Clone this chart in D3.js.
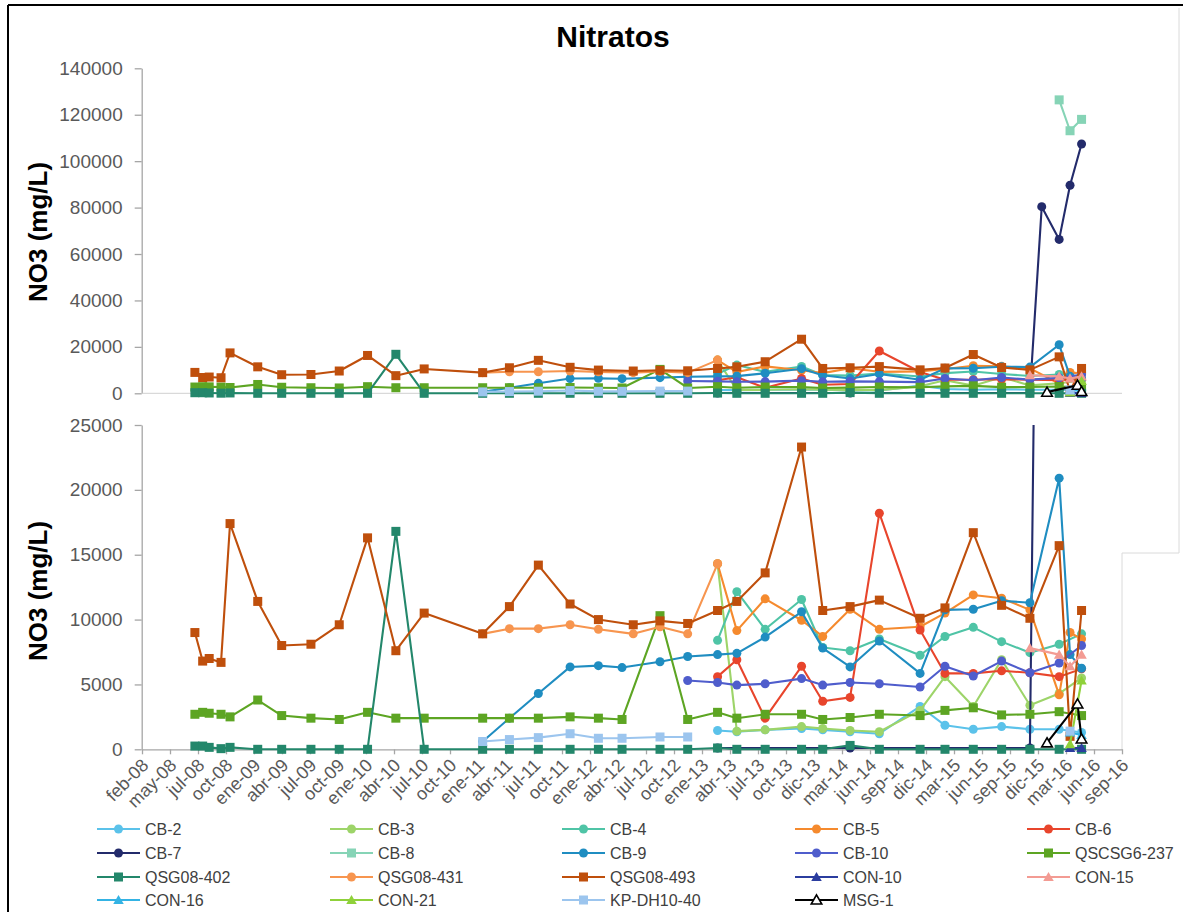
<!DOCTYPE html>
<html><head><meta charset="utf-8">
<script src="https://cdn.jsdelivr.net/npm/d3@7/dist/d3.min.js"></script>
<style>
body{margin:0;background:#fff;}
svg{display:block;font-family:"Liberation Sans",Arial,sans-serif;}
</style>
</head><body>
<svg id="chart" width="1183" height="912"></svg>
<script>
// ---------------- DATA ----------------
const tickLabels = ["feb-08","may-08","jul-08","oct-08","ene-09","abr-09","jul-09","oct-09","ene-10","abr-10","jul-10","oct-10","ene-11","abr-11","jul-11","oct-11","ene-12","abr-12","jul-12","oct-12","ene-13","abr-13","jul-13","oct-13","dic-13","mar-14","jun-14","sep-14","dic-14","mar-15","jun-15","sep-15","dic-15","mar-16","jun-16","sep-16"];
const topTicks = [0,20000,40000,60000,80000,100000,120000,140000];
const bottomTicks = [0,5000,10000,15000,20000,25000];
const seriesNames = ["CB-2","CB-3","CB-4","CB-5","CB-6","CB-7","CB-8","CB-9","CB-10","QSCSG6-237","QSG08-402","QSG08-431","QSG08-493","CON-10","CON-15","CON-16","CON-21","KP-DH10-40","MSG-1"];

const cb2 = [["2013-02-24",1450],["2013-04-27",1350],["2013-07-27",1500],["2013-11-21",1600],["2014-01-28",1500],["2014-04-26",1350],["2014-07-29",1200],["2014-12-07",3300],["2015-02-25",1850],["2015-05-27",1550],["2015-08-26",1750],["2015-11-25",1550],["2016-02-27",1550],["2016-05-09",1300]];
const cb3 = [["2013-02-24",14300],["2013-04-27",1400],["2013-07-27",1500],["2013-11-21",1750],["2014-01-28",1600],["2014-04-26",1450],["2014-07-29",1350],["2014-12-07",3000],["2015-02-25",5600],["2015-05-27",3300],["2015-08-26",6900],["2015-11-25",3400],["2016-02-27",4300],["2016-05-09",5500]];
const cb4 = [["2013-02-24",8400],["2013-04-27",12150],["2013-07-27",9250],["2013-11-21",11550],["2014-01-28",7850],["2014-04-26",7600],["2014-07-29",8500],["2014-12-07",7250],["2015-02-25",8700],["2015-05-27",9400],["2015-08-26",8300],["2015-11-25",7450],["2016-02-27",8100],["2016-05-09",8900]];
const cb5 = [["2013-02-24",14300],["2013-04-27",9150],["2013-07-27",11600],["2013-11-21",9950],["2014-01-28",8700],["2014-04-26",10800],["2014-07-29",9250],["2014-12-07",9450],["2015-02-25",10500],["2015-05-27",11900],["2015-08-26",11650],["2015-11-25",10750],["2016-02-27",4200],["2016-04-02",9000],["2016-05-09",8500]];
const cb6 = [["2013-02-24",5600],["2013-04-27",6900],["2013-07-27",2400],["2013-11-21",6400],["2014-01-28",3700],["2014-04-26",4000],["2014-07-29",18200],["2014-12-07",9200],["2015-02-25",5850],["2015-05-27",5850],["2015-08-26",6050],["2015-11-25",5900],["2016-02-27",5600],["2016-05-09",6200]];
const cb7 = [["2013-02-24",100],["2014-04-26",100],["2015-11-25",100],["2016-01-02",80400],["2016-02-27",66300],["2016-04-02",89600],["2016-05-09",107400]];
const cb8 = [["2016-02-27",126400],["2016-04-02",113100],["2016-05-09",118000]];
const cb9 = [["2011-01-31",600],["2011-04-27",2400],["2011-07-29",4300],["2011-11-08",6350],["2012-02-07",6450],["2012-04-23",6300],["2012-08-23",6750],["2012-11-20",7150],["2013-02-24",7300],["2013-04-27",7400],["2013-07-27",8650],["2013-11-21",10600],["2014-01-28",7800],["2014-04-26",6350],["2014-07-29",8350],["2014-12-07",5850],["2015-02-25",10750],["2015-05-27",10800],["2015-08-26",11450],["2015-11-25",11300],["2016-02-27",20900],["2016-04-02",7300],["2016-05-09",6250]];
const cb10 = [["2012-11-20",5300],["2013-02-24",5150],["2013-04-27",4950],["2013-07-27",5050],["2013-11-21",5450],["2014-01-28",4950],["2014-04-26",5150],["2014-07-29",5050],["2014-12-07",4800],["2015-02-25",6400],["2015-05-27",5650],["2015-08-26",6800],["2015-11-25",5900],["2016-02-27",6650],["2016-05-09",8000]];
const qscsg6237 = [["2008-07-20",2700],["2008-08-14",2850],["2008-09-04",2780],["2008-10-12",2700],["2008-11-10",2500],["2009-02-07",3800],["2009-04-25",2600],["2009-07-28",2400],["2009-10-27",2300],["2010-01-26",2850],["2010-04-27",2400],["2010-07-27",2400],["2011-01-31",2400],["2011-04-27",2400],["2011-07-29",2400],["2011-11-08",2500],["2012-02-07",2400],["2012-04-23",2300],["2012-08-23",10300],["2012-11-20",2300],["2013-02-24",2850],["2013-04-27",2400],["2013-07-27",2700],["2013-11-21",2700],["2014-01-28",2300],["2014-04-26",2450],["2014-07-29",2700],["2014-12-07",2600],["2015-02-25",3000],["2015-05-27",3200],["2015-08-26",2650],["2015-11-25",2700],["2016-02-27",2900],["2016-05-09",2600]];
const qsg08402 = [["2008-07-20",250],["2008-08-14",250],["2008-09-04",150],["2008-10-12",50],["2008-11-10",150],["2009-02-07",0],["2009-04-25",0],["2009-07-28",0],["2009-10-27",0],["2010-01-26",0],["2010-04-27",16800],["2010-07-27",0],["2011-01-31",0],["2011-04-27",0],["2011-07-29",0],["2011-11-08",0],["2012-02-07",0],["2012-04-23",0],["2012-08-23",0],["2012-11-20",0],["2013-02-24",100],["2013-04-27",0],["2013-07-27",0],["2013-11-21",0],["2014-01-28",0],["2014-04-26",300],["2014-07-29",0],["2014-12-07",0],["2015-02-25",0],["2015-05-27",0],["2015-08-26",0],["2015-11-25",0],["2016-02-27",0],["2016-05-09",0]];
const qsg08431 = [["2011-01-31",8900],["2011-04-27",9300],["2011-07-29",9300],["2011-11-08",9600],["2012-02-07",9250],["2012-05-29",8900],["2012-08-23",9450],["2012-11-20",8900],["2013-02-24",14300]];
const qsg08493 = [["2008-07-20",9000],["2008-08-14",6800],["2008-09-04",7000],["2008-10-12",6700],["2008-11-10",17400],["2009-02-07",11400],["2009-04-25",8000],["2009-07-28",8100],["2009-10-27",9600],["2010-01-26",16300],["2010-04-27",7600],["2010-07-27",10500],["2011-01-31",8900],["2011-04-27",11000],["2011-07-29",14200],["2011-11-08",11200],["2012-02-07",10000],["2012-05-29",9600],["2012-08-23",9900],["2012-11-20",9700],["2013-02-24",10700],["2013-04-27",11400],["2013-07-27",13600],["2013-11-21",23300],["2014-01-28",10700],["2014-04-26",11000],["2014-07-29",11500],["2014-12-07",10100],["2015-02-25",10900],["2015-05-27",16700],["2015-08-26",11100],["2015-11-25",10100],["2016-02-27",15700],["2016-04-02",1000],["2016-05-09",10700]];
const con10 = [["2016-04-02",100],["2016-05-09",100]];
const con15 = [["2015-11-25",7800],["2016-02-27",7300],["2016-04-02",6400],["2016-05-09",7300]];
const con16 = [["2016-04-02",1300],["2016-05-09",1100]];
const con21 = [["2016-04-02",400],["2016-05-09",5300]];
const kpdh1040 = [["2011-01-31",600],["2011-04-27",750],["2011-07-29",900],["2011-11-08",1200],["2012-02-07",850],["2012-04-23",850],["2012-08-23",950],["2012-11-20",950],["2014-06-01",null],["2016-04-02",1400]];
const msg1 = [["2016-01-19",500],["2016-04-26",3500],["2016-05-09",800]];

const seriesData = [cb2,cb3,cb4,cb5,cb6,cb7,cb8,cb9,cb10,qscsg6237,qsg08402,qsg08431,qsg08493,con10,con15,con16,con21,kpdh1040,msg1];

// ---------------- STYLE ----------------
const seriesColors = ["#5BC2EA","#9DD469","#4FC4A6","#F58A2E","#E8452C","#232B6B","#86D4B6","#1F8DC1","#4F5DCC","#5DA523","#23876B","#F7954F","#BF4F0C","#2B3D9F","#F39B93","#34B3E4","#8FD13A","#9CC5EE","#000000"];
const seriesMarkers = ["circle","circle","circle","circle","circle","circle","square","circle","circle","square","square","circle","square","triangle","triangle","triangle","triangle","square","hollowTriangle"];

const svg = d3.select("#chart");
const parse = d3.utcParse("%Y-%m-%d");
const start = new Date(Date.UTC(2008,1,1));
const tickDates = tickLabels.map((_, i) => d3.utcDay.offset(start, 90 * i));
const x = d3.scaleUtc().domain([tickDates[0], tickDates[tickDates.length - 1]]).range([142, 1122]);
const yTop = d3.scaleLinear().domain([0, 140000]).range([393.3, 68.3]);
const yBot = d3.scaleLinear().domain([0, 25000]).range([749.3, 425]);

// frame
svg.append("rect").attr("width",1183).attr("height",912).attr("fill","#fff");
svg.append("line").attr("x1",8).attr("x2",1183).attr("y1",5).attr("y2",5).attr("stroke","#000").attr("stroke-width",2);
svg.append("line").attr("x1",8).attr("x2",8).attr("y1",5).attr("y2",912).attr("stroke","#000").attr("stroke-width",2);
svg.append("path").attr("d","M1179,8V553H1122V750").attr("fill","none").attr("stroke","#DADADA").attr("stroke-width",1);

// title
svg.append("text").attr("x",613).attr("y",47).attr("text-anchor","middle")
  .style("font-size","30px").style("font-weight","bold").attr("fill","#000").text("Nitratos");

// y titles
[[232],[591]].forEach(([cy]) => {
  svg.append("text").attr("transform",`translate(47,${cy}) rotate(-90)`).attr("text-anchor","middle")
    .style("font-size","26px").style("font-weight","bold").attr("fill","#000").text("NO3 (mg/L)");
});

function styleAxis(g){
  g.select(".domain").attr("stroke","#A6A6A6").attr("stroke-width",1.3);
  g.selectAll(".tick line").attr("stroke","#A6A6A6").attr("stroke-width",1.3);
  g.selectAll(".tick text").attr("fill","#595959").style("font-family","'Liberation Sans',Arial,sans-serif");
}

// top axes
const gyt = svg.append("g").attr("transform","translate(141.7,0)")
  .call(d3.axisLeft(yTop).tickValues(topTicks).tickFormat(d3.format("d")).tickSize(7).tickSizeOuter(0).tickPadding(12));
styleAxis(gyt); gyt.selectAll(".tick text").style("font-size","19px");
svg.append("line").attr("x1",141.7).attr("x2",1122).attr("y1",393.3).attr("y2",393.3).attr("stroke","#D0D0D0").attr("stroke-width",1);

// bottom axes
const gyb = svg.append("g").attr("transform","translate(141.7,0)")
  .call(d3.axisLeft(yBot).tickValues(bottomTicks).tickFormat(d3.format("d")).tickSize(7).tickSizeOuter(0).tickPadding(12));
styleAxis(gyb); gyb.selectAll(".tick text").style("font-size","19px");

const gx = svg.append("g").attr("transform","translate(0,749.3)")
  .call(d3.axisBottom(x).tickValues(tickDates).tickFormat((d,i)=>tickLabels[i]).tickSize(5).tickSizeOuter(0));
styleAxis(gx);
gx.selectAll(".tick text").attr("x",0).attr("y",0).attr("dy",0)
  .attr("text-anchor","end").attr("transform","translate(7,17) rotate(-45)").style("font-size","18px");

// clip for bottom
svg.append("clipPath").attr("id","clipB").append("rect").attr("x",130).attr("y",425).attr("width",1010).attr("height",345);

const sym = {
  triangle: d3.symbol().type(d3.symbolTriangle).size(48)(),
  hollowTriangle: d3.symbol().type(d3.symbolTriangle).size(48)()
};

function drawMarkers(g, pts, yS, m, color){
  const valid = pts.filter(d => d[1] != null);
  if (m === "circle") {
    g.selectAll("circle").data(valid).join("circle")
      .attr("cx", d => x(parse(d[0]))).attr("cy", d => yS(d[1])).attr("r", 4.5).attr("fill", color);
  } else if (m === "square") {
    g.selectAll("rect").data(valid).join("rect")
      .attr("x", d => x(parse(d[0])) - 4.5).attr("y", d => yS(d[1]) - 4.5).attr("width", 9).attr("height", 9).attr("fill", color);
  } else {
    g.selectAll("path.mk").data(valid).join("path").attr("class","mk")
      .attr("d", sym[m]).attr("transform", d => `translate(${x(parse(d[0]))},${yS(d[1])+1})`)
      .attr("fill", m === "hollowTriangle" ? "#fff" : color)
      .attr("stroke", m === "hollowTriangle" ? color : "none").attr("stroke-width", 1.6);
  }
}

function drawPanel(yS, clip){
  const panel = svg.append("g");
  if (clip) panel.attr("clip-path","url(#clipB)");
  seriesNames.forEach((name, i) => {
    const pts = seriesData[i];
    const color = seriesColors[i];
    const line = d3.line().defined(d => d[1] != null).x(d => x(parse(d[0]))).y(d => yS(d[1]));
    const g = panel.append("g");
    g.append("path").attr("d", line(pts)).attr("fill","none").attr("stroke", color)
      .attr("stroke-width", 2.1).attr("stroke-linejoin","round");
    drawMarkers(g, pts, yS, seriesMarkers[i], color);
  });
}
drawPanel(yTop, false);
drawPanel(yBot, true);

// legend
const colX = [97, 330, 562, 795, 1027];
const rowY = [829, 853, 877, 900];
seriesNames.forEach((name, i) => {
  const cx = colX[i % 5], cy = rowY[Math.floor(i / 5)];
  const g = svg.append("g").attr("transform", `translate(${cx},${cy})`);
  const color = seriesColors[i];
  g.append("line").attr("x1",0).attr("x2",43).attr("y1",0).attr("y2",0).attr("stroke",color).attr("stroke-width",2.1);
  const m = seriesMarkers[i];
  if (m === "circle") g.append("circle").attr("cx",21.5).attr("cy",0).attr("r",4.5).attr("fill",color);
  else if (m === "square") g.append("rect").attr("x",17).attr("y",-4.5).attr("width",9).attr("height",9).attr("fill",color);
  else g.append("path").attr("d",sym[m]).attr("transform","translate(21.5,1)")
      .attr("fill", m === "hollowTriangle" ? "#fff" : color).attr("stroke", m === "hollowTriangle" ? color : "none").attr("stroke-width",1.6);
  g.append("text").attr("x",48).attr("y",0).attr("dy","0.35em").style("font-size","16px").attr("fill","#404040").text(name);
});
</script>
</body></html>
